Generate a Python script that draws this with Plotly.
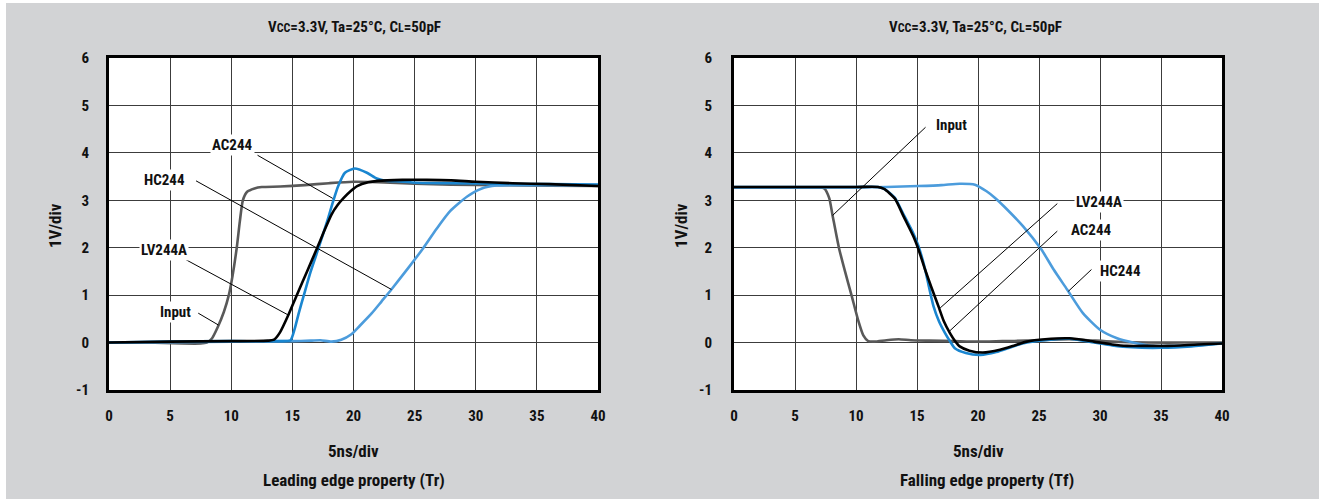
import plotly.graph_objects as go

# figure fills the page inside the default 8px body margin, so the page is exactly 1319x499
PAGE_W, PAGE_H, BODY_M = 1319, 499, 8
W, H = PAGE_W - 2 * BODY_M, PAGE_H - 2 * BODY_M

# ---------------- data: leading edge (Tr) ----------------
tr_input_x = [0, 3, 6, 7.5, 8.0, 8.4, 8.9, 9.4, 9.8, 10.1, 10.45, 10.7, 10.95, 11.3, 11.9, 12.5, 14, 16, 18, 20, 22, 25, 28, 32, 36, 40]
tr_input_y = [0, 0, -0.02, -0.02, 0.0, 0.08, 0.33, 0.65, 1.0, 1.4, 2.0, 2.55, 3.0, 3.18, 3.25, 3.28, 3.29, 3.32, 3.36, 3.39, 3.38, 3.35, 3.33, 3.32, 3.31, 3.3]

tr_lv_x = [0, 5, 10, 13.0, 13.5, 14.0, 14.67, 15.36, 16.2, 16.97, 17.6, 18.2, 18.7, 19.2, 19.8, 20.3, 21.2, 22, 24, 26, 28, 30, 33, 36, 40]
tr_lv_y = [0, 0.02, 0.03, 0.04, 0.06, 0.22, 0.58, 1.0, 1.5, 1.96, 2.35, 2.7, 2.9, 3.05, 3.2, 3.3, 3.38, 3.41, 3.43, 3.43, 3.42, 3.39, 3.36, 3.34, 3.3]

tr_ac_x = [0, 5, 10, 14.0, 14.85, 15.2, 15.5, 15.94, 16.5, 17.15, 17.9, 18.3, 18.75, 19.3, 20.1, 21.1, 21.9, 22.6, 23.5, 25.2, 28, 32, 36, 40]
tr_ac_y = [0, 0.02, 0.03, 0.03, 0.05, 0.3, 0.6, 1.0, 1.5, 2.0, 2.6, 2.95, 3.3, 3.58, 3.67, 3.58, 3.46, 3.41, 3.4, 3.37, 3.36, 3.35, 3.34, 3.33]

tr_hc_x = [0, 5, 10, 15, 16.5, 17.3, 18.2, 19.0, 19.8, 20.5, 21.5, 22.3, 23.1, 24.5, 25.7, 26.8, 27.9, 29.3, 30.5, 31.7, 33, 36, 40]
tr_hc_y = [0, 0.01, 0.02, 0.03, 0.04, 0.05, 0.02, 0.06, 0.17, 0.35, 0.62, 0.87, 1.12, 1.58, 1.99, 2.4, 2.77, 3.08, 3.25, 3.31, 3.32, 3.32, 3.32]

# ---------------- data: falling edge (Tf) ----------------
tf_input_x = [0, 5, 7.0, 7.4, 7.8, 8.08, 8.6, 9.1, 9.63, 10.2, 10.6, 11.0, 11.5, 12.5, 13.5, 14.5, 16, 18, 20, 22, 24, 26, 27.5, 29, 31, 34, 37, 40]
tf_input_y = [3.27, 3.27, 3.27, 3.25, 3.05, 2.68, 2.0, 1.5, 1.0, 0.45, 0.15, 0.03, 0.02, 0.05, 0.07, 0.05, 0.04, 0.03, 0.02, 0.03, 0.04, 0.06, 0.07, 0.05, 0.02, 0.0, 0.0, 0.0]

tf_lv_x = [0, 5, 10, 11.8, 12.3, 12.74, 13.2, 13.9, 14.7, 15.1, 15.66, 16.2, 16.75, 17.2, 17.7, 18.1, 18.5, 19.3, 20.4, 21.8, 23, 24, 25.5, 27.5, 29.5, 31, 32.2, 34, 35.5, 38, 40]
tf_lv_y = [3.28, 3.28, 3.28, 3.28, 3.24, 3.15, 3.03, 2.66, 2.24, 1.98, 1.54, 1.15, 0.77, 0.45, 0.2, 0.04, -0.08, -0.17, -0.21, -0.15, -0.06, 0.02, 0.07, 0.09, 0.02, -0.04, -0.07, -0.07, -0.07, -0.04, -0.02]

tf_ac_x = [0, 5, 10, 11.8, 12.3, 12.74, 13.2, 13.9, 14.7, 15.1, 15.66, 16.0, 16.35, 16.8, 17.3, 17.7, 18.1, 19.0, 20.2, 21.5, 23, 24, 25.5, 27.5, 29.5, 31, 32.6, 35, 37.5, 40]
tf_ac_y = [3.28, 3.28, 3.28, 3.28, 3.24, 3.16, 3.05, 2.7, 2.3, 2.05, 1.55, 1.15, 0.77, 0.45, 0.2, 0.03, -0.12, -0.22, -0.26, -0.2, -0.07, 0.0, 0.05, 0.08, 0.0, -0.06, -0.1, -0.11, -0.08, -0.02]

tf_hc_x = [0, 5, 10, 12.5, 15.1, 17, 18.5, 19.75, 20.7, 21.4, 22.1, 23.7, 25.2, 26.2, 27.3, 28.6, 30.0, 31.4, 32.7, 34, 36, 38, 40]
tf_hc_y = [3.27, 3.27, 3.27, 3.28, 3.30, 3.32, 3.35, 3.33, 3.19, 3.05, 2.88, 2.45, 1.96, 1.54, 1.12, 0.62, 0.27, 0.09, 0.0, -0.06, -0.07, -0.05, -0.02]

x_ticks = [0, 5, 10, 15, 20, 25, 30, 35, 40]
x_tick_text = ["0", "5", "10", "15", "20", "25", "30", "35", "40"]
y_ticks = [-1, 0, 1, 2, 3, 4, 5, 6]
y_tick_text = ["-1", "0", "1", "2", "3", "4", "5", "6"]

# series labels with callout (text position, leader start, leader end)
tr_labels = ["AC244", "HC244", "LV244A", "Input"]
tr_label_pos = [(10.1, 4.17), (4.54, 3.43), (4.49, 1.95), (5.47, 0.65)]
tr_leader_from = [(12.15, 3.95), (7.12, 3.41), (6.2, 1.76), (7.3, 0.62)]
tr_leader_to = [(18.3, 3.04), (23.1, 1.12), (14.67, 0.58), (8.95, 0.37)]

tf_labels = ["Input", "LV244A", "AC244", "HC244"]
tf_label_pos = [(17.8, 4.59), (29.9, 2.97), (29.3, 2.37), (31.7, 1.5)]
tf_leader_from = [(15.7, 4.54), (26.5, 2.93), (26.5, 2.35), (29.3, 1.54)]
tf_leader_to = [(8.08, 2.68), (16.9, 0.73), (17.7, 0.25), (27.4, 1.08)]

title_text = "V<span style='font-size:12px'>CC</span>=3.3V, Ta=25°C, C<span style='font-size:12px'>L</span>=50pF"
captions = ["Leading edge property (Tr)", "Falling edge property (Tf)"]

# ---------------- styles ----------------
FONT = "Liberation Sans Narrow, Arial Narrow, Roboto Condensed, Roboto, sans-serif"
C_INPUT = "#595959"
C_LV = "#000000"
C_AC = "#1a86d0"
C_HC = "#4c9cdc"
BG = "#d2d3d5"

# place items by target page pixel (figure sits at the body margin offset)
def fx(p):
    return (p - BODY_M) / W

def fy(p):
    return 1 - (p - BODY_M) / H

fig = go.Figure()

def add_set(xa, ya, sets):
    for xs, ys, col in sets:
        fig.add_trace(go.Scatter(x=xs, y=ys, mode="lines", xaxis=xa, yaxis=ya,
                                 line=dict(color=col, width=2.6, shape="spline", smoothing=0.6),
                                 showlegend=False, hoverinfo="skip"))

add_set("x", "y", [(tr_input_x, tr_input_y, C_INPUT), (tr_hc_x, tr_hc_y, C_HC),
                   (tr_ac_x, tr_ac_y, C_AC), (tr_lv_x, tr_lv_y, C_LV)])
add_set("x2", "y2", [(tf_input_x, tf_input_y, C_INPUT), (tf_hc_x, tf_hc_y, C_HC),
                     (tf_ac_x, tf_ac_y, C_AC), (tf_lv_x, tf_lv_y, C_LV)])

TICKFONT = dict(family=FONT, size=15, color="#111", weight="bold")
ax_common = dict(showline=True, mirror=True, linewidth=3, linecolor="#000",
                 showgrid=True, gridcolor="#3c3c3c", gridwidth=1, zeroline=False,
                 ticks="", tickfont=TICKFONT, fixedrange=True, automargin=False)

fig.update_layout(
    width=W, height=H, margin=dict(l=0, r=0, t=0, b=0, autoexpand=False),
    paper_bgcolor=BG, plot_bgcolor="#ffffff", showlegend=False,
    xaxis=dict(domain=[fx(109), fx(598)], range=[0, 40], tickvals=x_ticks, ticktext=x_tick_text,
               anchor="y", ticklabelstandoff=10, **ax_common),
    yaxis=dict(domain=[fy(390), fy(58)], range=[-1, 6], tickvals=y_ticks, ticktext=y_tick_text,
               anchor="x", ticklabelstandoff=14, **ax_common),
    xaxis2=dict(domain=[fx(734), fx(1222)], range=[0, 40], tickvals=x_ticks, ticktext=x_tick_text,
                anchor="y2", ticklabelstandoff=10, **ax_common),
    yaxis2=dict(domain=[fy(390), fy(58)], range=[-1, 6], tickvals=y_ticks, ticktext=y_tick_text,
                anchor="x2", ticklabelstandoff=16, **ax_common),
)

def callouts(xr, yr, labels, pos, frm, to):
    for lab, (tx, ty), (x0, y0), (x1, y1) in zip(labels, pos, frm, to):
        fig.add_shape(type="line", xref=xr, yref=yr, x0=x0, y0=y0, x1=x1, y1=y1,
                      line=dict(color="#000", width=1), layer="above")
        fig.add_annotation(x=tx, y=ty, xref=xr, yref=yr, text=lab, showarrow=False,
                           font=dict(family=FONT, size=15, color="#111", weight="bold"),
                           bgcolor="#ffffff", borderpad=1)

callouts("x", "y", tr_labels, tr_label_pos, tr_leader_from, tr_leader_to)
callouts("x2", "y2", tf_labels, tf_label_pos, tf_leader_from, tf_leader_to)

def text(x, y, s, size, angle=0, yanchor="middle"):
    fig.add_annotation(x=fx(x), y=fy(y), xref="paper", yref="paper", text=s,
                       showarrow=False, textangle=angle, xanchor="center", yanchor=yanchor,
                       font=dict(family=FONT, size=size, color="#111", weight="bold"),
                       borderpad=0)

text(354, 27, title_text, 15)
text(975, 27, title_text, 15)
text(353, 451, "5ns/div", 17)
text(979, 451, "5ns/div", 17)
# captions sit on the bottom edge of the figure so that no part is clipped
text(354, PAGE_H - BODY_M, captions[0], 17, yanchor="bottom")
text(987, PAGE_H - BODY_M, captions[1], 17, yanchor="bottom")
text(55, 226, "1V/div", 17, angle=-90)
text(681, 226, "1V/div", 17, angle=-90)

# page background around the figure: grey, with the thin white strips at top and left
page_js = (
    "var r=document.documentElement;"
    "r.style.backgroundColor='%s';"
    "r.style.backgroundImage='linear-gradient(to bottom, #ffffff 3px, rgba(255,255,255,0) 3px),"
    " linear-gradient(to right, #ffffff 6px, rgba(255,255,255,0) 6px)';"
    "r.style.backgroundRepeat='no-repeat';"
    "r.style.minHeight='100%%';"
    "document.body.style.backgroundColor='%s';" % (BG, BG)
)

fig.write_html("out.html", config={"displayModeBar": False}, post_script=page_js)
